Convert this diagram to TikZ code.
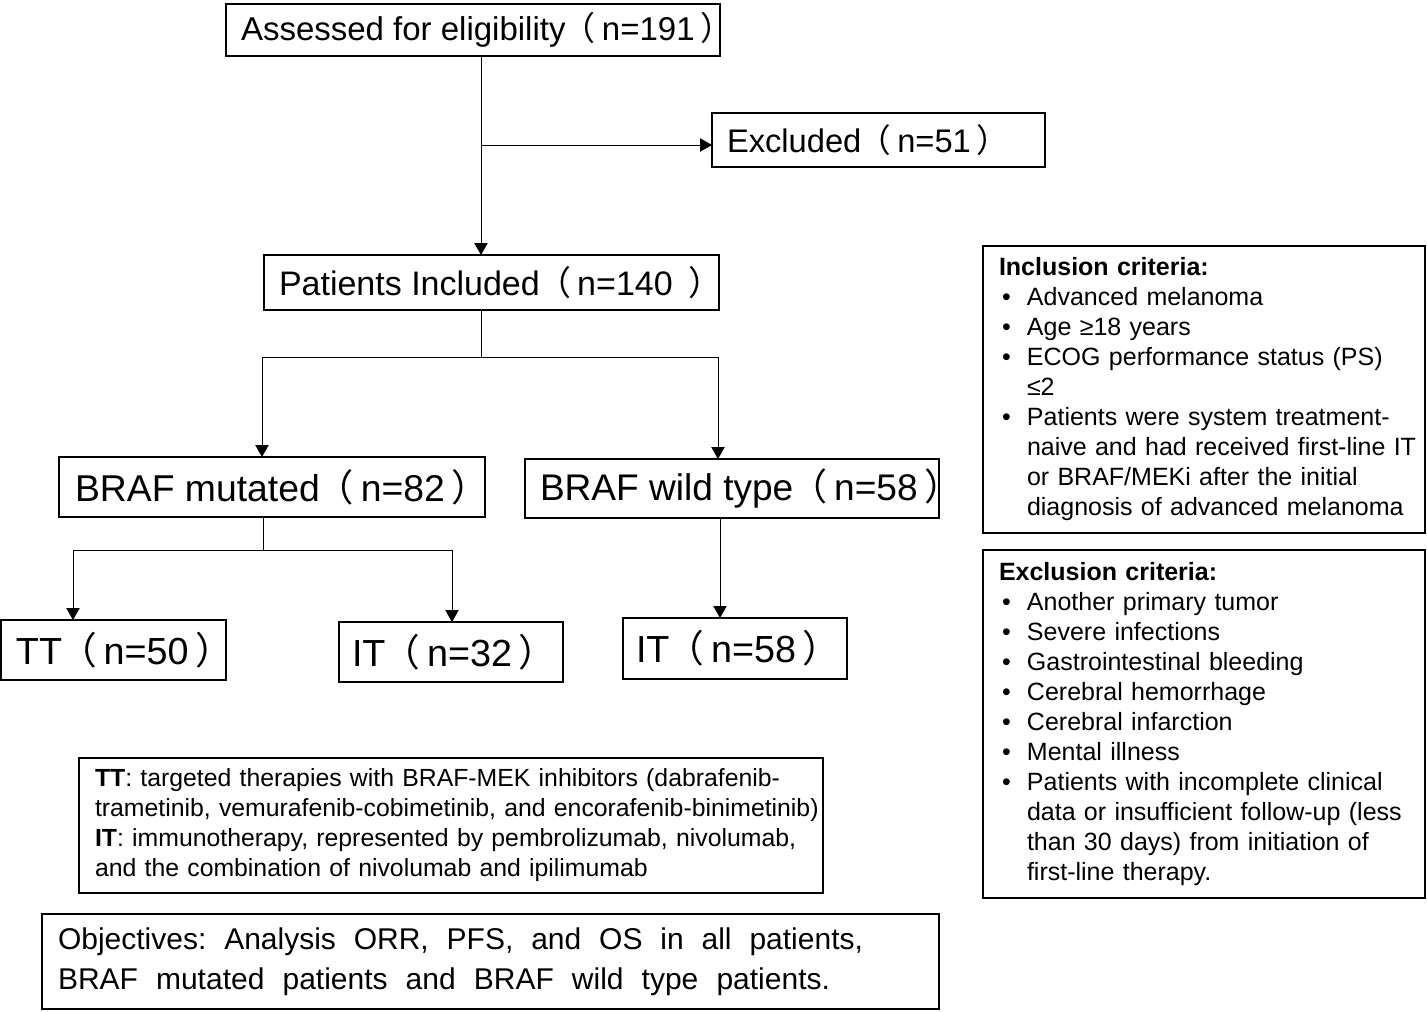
\documentclass[tikz,border=0pt]{standalone}
\usepackage{fontspec}
\setmainfont{Liberation Sans}
\newfontfamily\cjk{Noto Sans CJK SC}
\usetikzlibrary{arrows.meta}
\newdimen\px \px=0.75pt
\newcommand\lp{\hspace*{-0.08em}{\cjk （}\hspace*{0.18em}}
\newcommand\rp{\hspace*{0.18em}{\cjk ）}}
\newcommand\lbox[3]{\makebox[#1\px][l]{\hspace*{#2\px}#3}}
\newcommand\bul[1]{\mbox{\hspace*{3\px}\makebox[25\px][l]{•}#1}}
\newcommand\cont[1]{\mbox{\hspace*{28\px}#1}}
\newcommand\wline[2]{\hbox to #1\px{\frenchspacing\spaceskip=8pt plus 20pt\relax #2}}
\begin{document}
\begin{tikzpicture}[x=0.75pt,y=-0.75pt,
  fbox/.style={draw, line width=1.6pt, inner xsep=0pt, inner ysep=0pt, outer sep=0pt, anchor=north west},
  tbox/.style={draw, line width=1.5pt, inner xsep=16\px, inner ysep=0pt, outer sep=0pt, anchor=north west, align=left},
  conn/.style={line width=0.75pt},
  arr/.style={conn, -{Triangle[width=10pt,length=9pt]}},
  critfont/.style={font=\fontsize{18.75pt}{22.5pt}\selectfont},
  notefont/.style={font=\fontsize{18.6pt}{22.5pt}\selectfont}
]
\useasboundingbox (0,0) rectangle (1427,1011);
% main flow boxes
\node[fbox, minimum width=494\px, minimum height=52\px, font=\fontsize{24.75pt}{30pt}\selectfont] (assess) at (226,4)
  {\lbox{494}{15}{Assessed for eligibility\lp n=191\rp}};
\node[fbox, minimum width=333\px, minimum height=54\px, font=\fontsize{24.5pt}{30pt}\selectfont] (excl) at (712,113)
  {\lbox{333}{15}{Excluded\lp n=51\rp}};
\node[fbox, minimum width=455\px, minimum height=55\px, font=\fontsize{25.5pt}{30pt}\selectfont] (pat) at (264,255)
  {\lbox{455}{15}{Patients Included\lp n=140 \rp}};
\node[fbox, minimum width=426\px, minimum height=60\px, font=\fontsize{28pt}{34pt}\selectfont] (bm) at (59,457)
  {\lbox{426}{16}{BRAF mutated\lp n=82\rp}};
\node[fbox, minimum width=414\px, minimum height=59\px, font=\fontsize{27.8pt}{34pt}\selectfont] (bw) at (525,459)
  {\lbox{414}{15}{BRAF wild type\lp n=58\rp}};
\node[fbox, minimum width=225\px, minimum height=60\px, font=\fontsize{28.3pt}{35pt}\selectfont] (tt) at (1,620)
  {\lbox{225}{15}{TT\lp n=50\rp}};
\node[fbox, minimum width=224\px, minimum height=60\px, font=\fontsize{28.3pt}{35pt}\selectfont] (ita) at (339,622)
  {\lbox{224}{13}{IT\lp n=32\rp}};
\node[fbox, minimum width=224\px, minimum height=61\px, font=\fontsize{28.3pt}{35pt}\selectfont] (itb) at (623,618)
  {\lbox{224}{13}{IT\lp n=58\rp}};
% connectors
\coordinate (j1) at (481,145);
\draw[arr] (assess.south -| j1) -- (pat.north -| j1);
\draw[arr] (j1) -- (excl.west |- j1);
\coordinate (j2) at (481,357);
\coordinate (j2l) at (262,357);
\coordinate (j2r) at (718,357);
\draw[conn] (pat.south -| j2) -- (j2);
\draw[conn] (j2l) -- (j2r);
\draw[arr] (j2l) -- (bm.north -| j2l);
\draw[arr] (j2r) -- (bw.north -| j2r);
\coordinate (j3) at (263,550);
\coordinate (j3l) at (73,550);
\coordinate (j3r) at (452,550);
\draw[conn] (bm.south -| j3) -- (j3);
\draw[conn] (j3l) -- (j3r);
\draw[arr] (j3l) -- (tt.north -| j3l);
\draw[arr] (j3r) -- (ita.north -| j3r);
\coordinate (j4) at (720,570);
\draw[arr] (bw.south -| j4) -- (itb.north -| j4);
% criteria
\node[tbox, critfont, text width=410\px, minimum height=287\px] (incl) at (983,246) {%
\mbox{\textbf{Inclusion criteria:}}\\
\bul{Advanced melanoma}\\
\bul{Age ≥18 years}\\
\bul{ECOG performance status (PS)}\\
\cont{≤2}\\
\bul{Patients were system treatment-}\\
\cont{naive and had received first-line IT}\\
\cont{or BRAF/MEKi after the initial}\\
\cont{diagnosis of advanced melanoma}};
\node[tbox, critfont, text width=410\px, minimum height=348\px] (exclc) at (983,550) {%
\mbox{\textbf{Exclusion criteria:}}\\
\bul{Another primary tumor}\\
\bul{Severe infections}\\
\bul{Gastrointestinal bleeding}\\
\bul{Cerebral hemorrhage}\\
\bul{Cerebral infarction}\\
\bul{Mental illness}\\
\bul{Patients with incomplete clinical}\\
\cont{data or insufficient follow-up (less}\\
\cont{than 30 days) from initiation of}\\
\cont{first-line therapy.}};
% notes
\node[tbox, notefont, text width=712\px, minimum height=135\px] (notes) at (79,758) {%
\mbox{\textbf{TT}: targeted therapies with BRAF-MEK inhibitors (dabrafenib-}\\
\mbox{trametinib, vemurafenib-cobimetinib, and encorafenib-binimetinib)}\\
\mbox{\textbf{IT}: immunotherapy, represented by pembrolizumab, nivolumab,}\\
\mbox{and the combination of nivolumab and ipilimumab}};
\node[tbox, text width=865\px, minimum height=95\px, font=\fontsize{22.5pt}{30pt}\selectfont] (obj) at (42,914) {%
\wline{805}{Objectives: Analysis ORR, PFS, and OS in all patients,}\\
\wline{772}{BRAF mutated patients and BRAF wild type patients.}};
\end{tikzpicture}
\end{document}
